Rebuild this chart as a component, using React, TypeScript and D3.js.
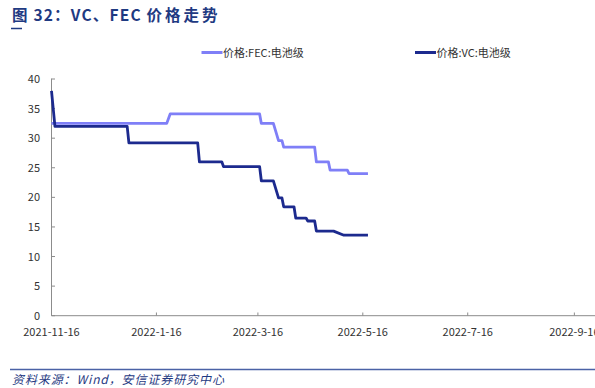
import React from "react";
import * as d3 from "d3";

const W = 595;
const H = 388;

const xTickLabels = ["2021-11-16", "2022-1-16", "2022-3-16", "2022-5-16", "2022-7-16", "2022-9-16"];
const yTicks = [0, 5, 10, 15, 20, 25, 30, 35, 40];

const fecDates = [
  "2021-11-16", "2022-01-22", "2022-01-24", "2022-03-17", "2022-03-18", "2022-03-25",
  "2022-03-28", "2022-03-30", "2022-03-31", "2022-04-18", "2022-04-19", "2022-04-26",
  "2022-04-27", "2022-05-07", "2022-05-08", "2022-05-19",
];
const fecValues = [32.5, 32.5, 34.1, 34.1, 32.5, 32.5, 29.6, 29.6, 28.5, 28.5, 26.0, 26.0, 24.6, 24.6, 24.0, 24.0];

const vcDates = [
  "2021-11-16", "2021-11-18", "2021-12-30", "2021-12-31", "2022-02-09", "2022-02-10",
  "2022-02-23", "2022-02-24", "2022-03-17", "2022-03-18", "2022-03-25", "2022-03-28",
  "2022-03-30", "2022-03-31", "2022-04-06", "2022-04-07", "2022-04-13", "2022-04-14",
  "2022-04-18", "2022-04-19", "2022-04-29", "2022-05-05", "2022-05-19",
];
const vcValues = [38, 32, 32, 29.2, 29.2, 26.0, 26.0, 25.2, 25.2, 22.8, 22.8, 19.9, 19.9, 18.4, 18.4, 16.5, 16.5, 16.0, 16.0, 14.3, 14.3, 13.6, 13.6];

const seriesNames = ["价格:FEC:电池级", "价格:VC:电池级"];
const seriesColors = ["#7f7ff7", "#1c2a8e"];

const parse = d3.timeParse("%Y-%m-%d");

export default function App() {
  const x = d3
    .scaleTime()
    .domain([parse("2021-11-16")!, parse("2022-09-28")!])
    .range([51.5, 595]);
  const y = d3.scaleLinear().domain([0, 40]).range([315.7, 79]);

  const line = d3
    .line<[Date, number]>()
    .x((d) => x(d[0]))
    .y((d) => y(d[1]));

  const fec: [Date, number][] = fecDates.map((d, i) => [parse(d)!, fecValues[i]]);
  const vc: [Date, number][] = vcDates.map((d, i) => [parse(d)!, vcValues[i]]);

  const xTickDates = xTickLabels.map((s) => {
    const [yy, mm, dd] = s.split("-").map(Number);
    return new Date(yy, mm - 1, dd);
  });

  const font = "'Noto Sans CJK SC', 'Noto Sans', sans-serif";
  const axisColor = "#8c8c8c";
  const textColor = "#333333";

  const legendX = [201.5, 415];

  return (
    <div style={{ position: "absolute", left: 0, top: 0 }}>
      <svg width={W} height={H} style={{ display: "block", background: "#fff" }} fontFamily={font}>
        {/* Title */}
        <text x={12} y={21} fontSize={15.5} fontWeight="bold" fill="#1f3a82" letterSpacing={1.2}>
          图 32：VC、FEC <tspan letterSpacing={3}>价格走势</tspan>
        </text>
        <line x1={11} x2={22} y1={28.5} y2={28.5} stroke="#1f3a82" strokeWidth={1.5} />

        {/* Legend */}
        {seriesNames.map((n, i) => (
          <g key={n}>
            <line x1={legendX[i]} x2={legendX[i] + 21} y1={52.5} y2={52.5} stroke={seriesColors[i]} strokeWidth={3} />
            <text x={legendX[i] + 21.5} y={56.5} fontSize={11} fill={textColor}>
              {n}
            </text>
          </g>
        ))}

        {/* Y axis */}
        <line x1={51.5} x2={51.5} y1={78.5} y2={315.7} stroke={axisColor} strokeWidth={1} />
        {yTicks.map((t) => (
          <g key={t}>
            <line x1={51.5} x2={55} y1={y(t)} y2={y(t)} stroke={axisColor} strokeWidth={1} />
            <text x={40} y={y(t) + 4} fontSize={11} textAnchor="end" fill={textColor}>
              {t}
            </text>
          </g>
        ))}

        {/* X axis */}
        <line x1={51.5} x2={595} y1={315.7} y2={315.7} stroke={axisColor} strokeWidth={1} />
        {xTickDates.map((d, i) => (
          <g key={xTickLabels[i]}>
            <line x1={x(d)} x2={x(d)} y1={315.7} y2={312.5} stroke={axisColor} strokeWidth={1} />
            <text x={x(d)} y={336} fontSize={11} textAnchor="middle" fill={textColor}>
              {xTickLabels[i]}
            </text>
          </g>
        ))}

        {/* Lines */}
        <path d={line(fec) || ""} fill="none" stroke={seriesColors[0]} strokeWidth={2.8} strokeLinejoin="round" />
        <path d={line(vc) || ""} fill="none" stroke={seriesColors[1]} strokeWidth={2.8} strokeLinejoin="round" />

        {/* Footer */}
        <line x1={10} x2={595} y1={369.5} y2={369.5} stroke="#4a62a6" strokeWidth={1.5} />
        <text x={12} y={384} fontSize={12} fontStyle="italic" fill="#1f3a82" letterSpacing={0.9}>
          资料来源：Wind，安信证券研究中心
        </text>
      </svg>
    </div>
  );
}
